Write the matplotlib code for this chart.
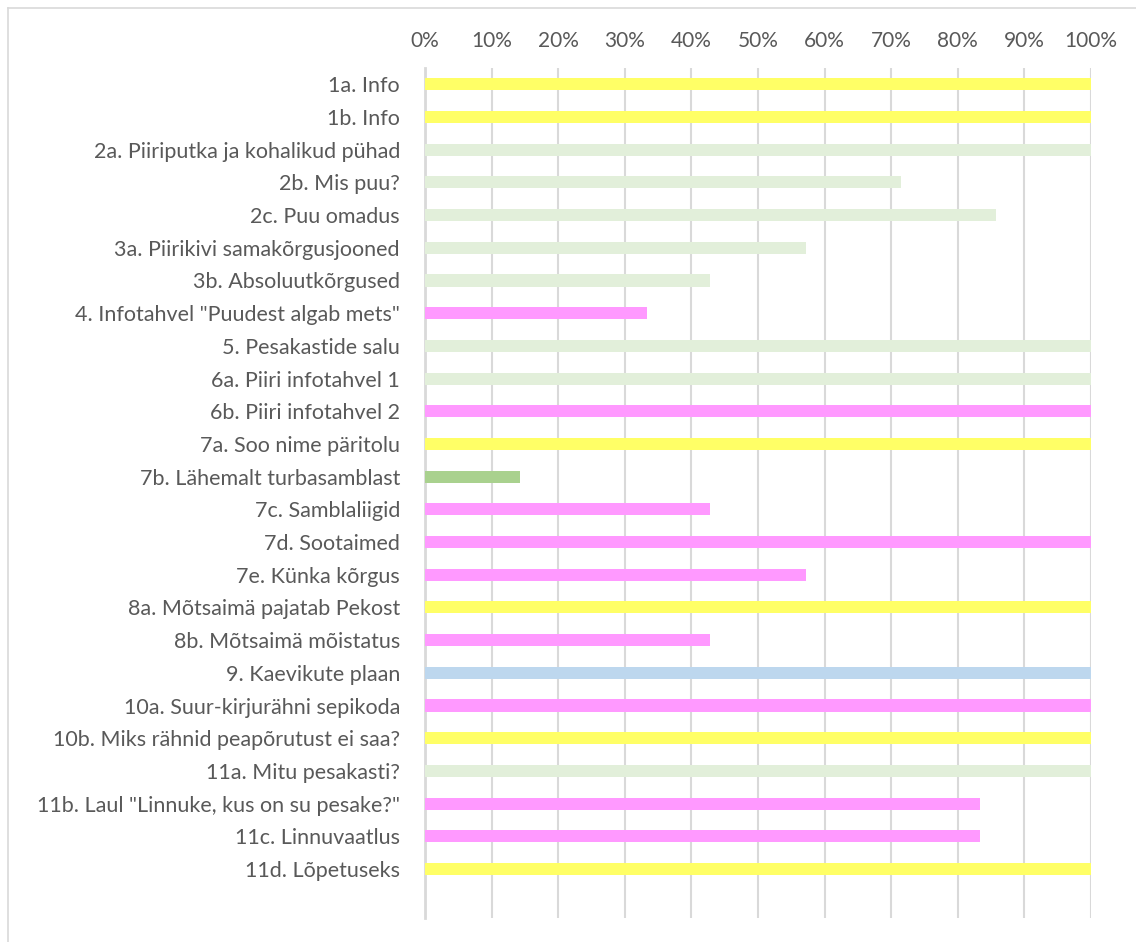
import matplotlib.pyplot as plt
from matplotlib.lines import Line2D

labels = [
    '1a. Info', '1b. Info', '2a. Piiriputka ja kohalikud pühad', '2b. Mis puu?',
    '2c. Puu omadus', '3a. Piirikivi samakõrgusjooned', '3b. Absoluutkõrgused',
    '4. Infotahvel "Puudest algab mets"', '5. Pesakastide salu', '6a. Piiri infotahvel 1',
    '6b. Piiri infotahvel 2', '7a. Soo nime päritolu', '7b. Lähemalt turbasamblast',
    '7c. Samblaliigid', '7d. Sootaimed', '7e. Künka kõrgus', '8a. Mõtsaimä pajatab Pekost',
    '8b. Mõtsaimä mõistatus', '9. Kaevikute plaan', '10a. Suur-kirjurähni sepikoda',
    '10b. Miks rähnid peapõrutust ei saa?', '11a. Mitu pesakasti?',
    '11b. Laul "Linnuke, kus on su pesake?"', '11c. Linnuvaatlus', '11d. Lõpetuseks',
]
values = [1.0, 1.0, 1.0, 5/7, 6/7, 4/7, 3/7, 1/3, 1.0, 1.0, 1.0, 1.0, 1/7, 3/7, 1.0,
          4/7, 1.0, 3/7, 1.0, 1.0, 1.0, 1.0, 5/6, 5/6, 1.0]
groups = ['Y', 'Y', 'LG', 'LG', 'LG', 'LG', 'LG', 'P', 'LG', 'LG', 'P', 'Y', 'G', 'P', 'P',
          'P', 'Y', 'P', 'B', 'P', 'Y', 'LG', 'P', 'P', 'Y']
palette = {'Y': '#FFFF66', 'LG': '#E2EFDA', 'P': '#FF99FF', 'G': '#A9D18E', 'B': '#BDD7EE'}

plt.rcParams['font.family'] = ['Lato', 'DejaVu Sans']

fig = plt.figure(figsize=(11.36, 9.42), dpi=100)
ax = fig.add_axes([425/1136, 1 - 918/942, 666/1136, (918 - 68)/942])

y = list(range(len(labels)))
ax.barh(y, values, height=0.37, color=[palette[g] for g in groups], zorder=3)

ax.set_xlim(0, 1)
ax.set_ylim(25.5, -0.5)
ax.set_xticks([i / 10 for i in range(11)])
ax.set_xticklabels([f'{i * 10}%' for i in range(11)])
ax.set_yticks(y)
ax.set_yticklabels(labels)
ax.xaxis.tick_top()
ax.tick_params(axis='x', length=0, pad=12, labelsize=15, labelcolor='#595959')
ax.tick_params(axis='y', length=0, pad=18, labelsize=15.5, labelcolor='#595959')
ax.grid(axis='x', color='#D9D9D9', linewidth=1.5, zorder=0)
for s in ['top', 'right', 'bottom']:
    ax.spines[s].set_visible(False)
ax.spines['left'].set_color('#D9D9D9')
ax.spines['left'].set_linewidth(2)

# chart area border (clipped at right/bottom)
fig.add_artist(Line2D([8/1136, 8/1136], [0, 1 - 8/942], color='#D9D9D9', lw=1.2))
fig.add_artist(Line2D([8/1136, 1], [1 - 8/942, 1 - 8/942], color='#D9D9D9', lw=1.2))

fig.savefig('out.png', dpi=100)
